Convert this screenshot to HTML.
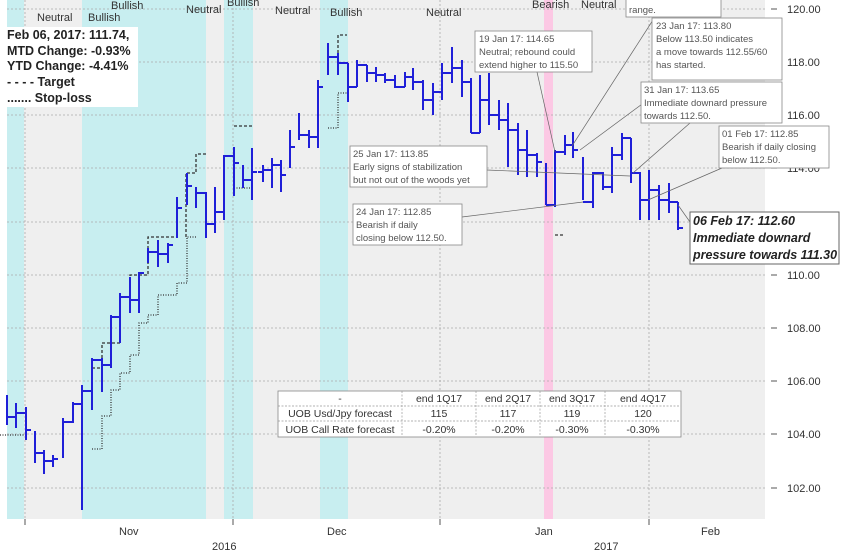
<!DOCTYPE html>
<html><head><meta charset="utf-8"><style>
html,body{margin:0;padding:0;background:#fff;}
svg{display:block;font-family:"Liberation Sans",Arial,sans-serif;}
.ann{font-size:9.5px;fill:#555;}
.bl{font-size:11px;fill:#333;}
</style></head><body>
<svg id="s" width="843" height="554" viewBox="0 0 843 554" xmlns="http://www.w3.org/2000/svg">
<rect x="0" y="0" width="843" height="554" fill="#fff"/>
<rect x="7" y="0" width="758" height="519" fill="#efefef"/>
<rect x="7" y="0" width="17" height="519" fill="#c8eef0"/>
<rect x="82" y="0" width="124" height="519" fill="#c8eef0"/>
<rect x="224" y="0" width="29" height="519" fill="#c8eef0"/>
<rect x="320" y="0" width="28" height="519" fill="#c8eef0"/>
<rect x="544" y="0" width="9" height="519" fill="#fcc8e4"/>
<g stroke="#aaa" stroke-width="0.8" stroke-dasharray="2,2">
<line x1="7" x2="765" y1="9" y2="9"/><line x1="7" x2="765" y1="62" y2="62"/><line x1="7" x2="765" y1="115" y2="115"/><line x1="7" x2="765" y1="168" y2="168"/><line x1="7" x2="765" y1="222" y2="222"/><line x1="7" x2="765" y1="275" y2="275"/><line x1="7" x2="765" y1="328" y2="328"/><line x1="7" x2="765" y1="381" y2="381"/><line x1="7" x2="765" y1="434" y2="434"/><line x1="7" x2="765" y1="488" y2="488"/>
<line x1="25" x2="25" y1="0" y2="519"/><line x1="233" x2="233" y1="0" y2="519"/><line x1="440" x2="440" y1="0" y2="519"/><line x1="649" x2="649" y1="0" y2="519"/>
</g>
<g stroke="#555" stroke-width="1">
<line x1="25" x2="25" y1="519" y2="525"/><line x1="233" x2="233" y1="519" y2="525"/><line x1="440" x2="440" y1="519" y2="525"/><line x1="649" x2="649" y1="519" y2="525"/>
<line x1="771" x2="777" y1="9" y2="9"/><line x1="771" x2="777" y1="62" y2="62"/><line x1="771" x2="777" y1="115" y2="115"/><line x1="771" x2="777" y1="168" y2="168"/><line x1="771" x2="777" y1="222" y2="222"/><line x1="771" x2="777" y1="275" y2="275"/><line x1="771" x2="777" y1="328" y2="328"/><line x1="771" x2="777" y1="381" y2="381"/><line x1="771" x2="777" y1="434" y2="434"/><line x1="771" x2="777" y1="488" y2="488"/>
</g>
<g font-size="11" fill="#333">
<text x="787" y="13">120.00</text><text x="787" y="66">118.00</text><text x="787" y="119">116.00</text><text x="787" y="172">114.00</text><text x="787" y="226">112.00</text><text x="787" y="279">110.00</text><text x="787" y="332">108.00</text><text x="787" y="385">106.00</text><text x="787" y="438">104.00</text><text x="787" y="492">102.00</text>
<text x="119" y="535">Nov</text><text x="327" y="535">Dec</text><text x="535" y="535">Jan</text><text x="701" y="535">Feb</text>
<text x="212" y="550">2016</text><text x="594" y="550">2017</text>
</g>
<g class="bl">
<text x="37" y="21">Neutral</text><text x="88" y="21">Bullish</text><text x="111" y="9">Bullish</text><text x="186" y="13">Neutral</text><text x="227" y="6">Bullish</text><text x="275" y="14">Neutral</text><text x="330" y="16">Bullish</text><text x="426" y="16">Neutral</text><text x="532" y="8">Bearish</text><text x="581" y="8">Neutral</text>
</g>
<!-- target dashed -->
<g fill="none" stroke="#333" stroke-width="1.3" stroke-dasharray="3,2">
<path d="M92 368H102V343H120V297H130V275H148V237H177V237M186 237V173H196V154H206"/>
<path d="M234 126H253"/><path d="M338 53V35H347"/><path d="M555 235H565"/>
</g>
<g fill="none" stroke="#333" stroke-width="1.3" stroke-dasharray="1,1.5">
<path d="M92 449H102V416H111V390H120V373H130V355H139V323H148V315H158V295H177V283H187V237H196"/>
<path d="M234 188H253"/><path d="M328 128H338V93H347"/><path d="M0 435H25"/>
</g>
<g id="bars" stroke="#1f1fd8" stroke-width="2" fill="none"></g>
<!-- leader lines -->
<g stroke="#666" stroke-width="0.7">
<line x1="537" y1="72" x2="555" y2="152"/><line x1="653" y1="20" x2="572" y2="146"/><line x1="672" y1="82" x2="580" y2="150"/><line x1="690" y1="123" x2="633" y2="173"/><line x1="722" y1="168" x2="648" y2="200"/><line x1="487" y1="170" x2="630" y2="176"/><line x1="462" y1="217" x2="583" y2="202"/><line x1="690" y1="222" x2="678" y2="205"/>
</g>
<!-- legend box -->
<rect x="7" y="27" width="131" height="80" fill="#fff"/>
<g font-size="12.5" font-weight="bold" fill="#222">
<text x="7" y="39">Feb 06, 2017:  111.74,</text><text x="7" y="55">MTD Change:  -0.93%</text><text x="7" y="70">YTD Change:  -4.41%</text><text x="7" y="86">- - - -    Target</text><text x="7" y="102">.......    Stop-loss</text>
</g>
<!-- annotation boxes -->
<g fill="#fff" stroke="#888" stroke-width="0.8">
<rect x="626" y="-5" width="95" height="22"/><rect x="475" y="31" width="117" height="41"/><rect x="652" y="18" width="130" height="62"/><rect x="641" y="82" width="141" height="41"/><rect x="719" y="126" width="110" height="42"/><rect x="350" y="146" width="137" height="41"/><rect x="353" y="204" width="109" height="41"/><rect x="690" y="212" width="149" height="52" stroke="#666" stroke-width="1"/>
</g>
<g class="ann">
<text x="629" y="13">range.</text>
<text x="479" y="42">19 Jan 17: 114.65</text><text x="479" y="55">Neutral; rebound could</text><text x="479" y="68">extend higher to 115.50</text>
<text x="656" y="29">23 Jan 17: 113.80</text><text x="656" y="42">Below 113.50 indicates</text><text x="656" y="55">a move towards 112.55/60</text><text x="656" y="68">has started.</text>
<text x="644" y="93">31 Jan 17: 113.65</text><text x="644" y="106">Immediate downard pressure</text><text x="644" y="119">towards 112.50.</text>
<text x="722" y="137">01 Feb 17: 112.85</text><text x="722" y="150">Bearish if daily closing</text><text x="722" y="163">below 112.50.</text>
<text x="353" y="157">25 Jan 17: 113.85</text><text x="353" y="170">Early signs of stabilization</text><text x="353" y="183">but not out of the woods yet</text>
<text x="356" y="215">24 Jan 17: 112.85</text><text x="356" y="228">Bearish if daily</text><text x="356" y="241">closing below 112.50.</text>
</g>
<g font-size="12.5" font-weight="bold" font-style="italic" fill="#222">
<text x="693" y="225">06 Feb 17: 112.60</text><text x="693" y="242">Immediate downard</text><text x="693" y="259">pressure towards 111.30</text>
</g>
<!-- table -->
<rect x="278" y="391" width="403" height="46" fill="#fff" stroke="#888" stroke-width="0.8"/>
<g stroke="#999" stroke-width="0.7" stroke-dasharray="2,1.5">
<line x1="278" x2="681" y1="406" y2="406"/><line x1="278" x2="681" y1="421" y2="421"/>
<line x1="402" x2="402" y1="391" y2="437"/><line x1="476" x2="476" y1="391" y2="437"/><line x1="540" x2="540" y1="391" y2="437"/><line x1="605" x2="605" y1="391" y2="437"/>
</g>
<g font-size="10.5" fill="#333" text-anchor="middle">
<text x="340" y="402">-</text><text x="439" y="402">end 1Q17</text><text x="508" y="402">end 2Q17</text><text x="572" y="402">end 3Q17</text><text x="643" y="402">end 4Q17</text>
<text x="340" y="417">UOB Usd/Jpy forecast</text><text x="439" y="417">115</text><text x="508" y="417">117</text><text x="572" y="417">119</text><text x="643" y="417">120</text>
<text x="340" y="433">UOB Call Rate  forecast</text><text x="439" y="433">-0.20%</text><text x="508" y="433">-0.20%</text><text x="572" y="433">-0.30%</text><text x="643" y="433">-0.30%</text>
</g>
</svg>
<script>
var d=[[7,395,425,417],[16,403,428,413],[26,407,440,430],[35,431,463,453],[44,450,474,461],[53,455,467,459],[63,418,458,422],[73,402,423,404],[82,385,510,391],[92,358,410,360],[102,358,392,365],[111,315,368,317],[120,293,343,297],[130,277,313,300],[139,272,313,273],[148,248,263,252],[158,240,267,254],[168,243,263,245],[177,197,238,208],[187,173,205,186],[196,187,208,193],[206,192,238,224],[215,187,233,212],[224,155,220,156],[234,147,196,163],[243,165,188,180],[252,148,200,172],[263,165,182,170],[272,158,188,165],[281,160,192,175],[290,130,168,147],[299,113,140,135],[309,130,148,137],[318,80,148,87],[328,43,75,57],[338,53,75,63],[348,63,102,87],[357,60,87,65],[367,65,82,73],[376,67,82,75],[385,73,83,80],[395,75,88,87],[405,72,87,77],[413,68,90,82],[423,80,110,100],[433,83,115,92],[442,63,100,73],[452,47,83,68],[462,60,97,82],[471,78,133,133],[480,75,133,100],[489,73,125,115],[499,100,130,120],[508,103,167,130],[518,123,175,150],[527,130,177,155],[537,153,177,162],[546,163,205,205],[555,150,207,152],[565,135,155,145],[573,132,158,150],[583,157,200,202],[593,172,208,173],[603,172,190,187],[612,147,193,155],[622,133,160,138],[631,138,183,173],[640,172,220,200],[649,170,220,190],[659,185,220,200],[669,183,213,202],[678,202,230,228]];
var g=document.getElementById('bars'),s='',p=null;
d.forEach(function(b){s+='<line x1="'+b[0]+'" x2="'+b[0]+'" y1="'+b[1]+'" y2="'+b[2]+'"/>';
if(p!==null&&p>=b[1]&&p<=b[2])s+='<line x1="'+(b[0]-5)+'" x2="'+b[0]+'" y1="'+p+'" y2="'+p+'"/>';
s+='<line x1="'+b[0]+'" x2="'+(b[0]+5)+'" y1="'+b[3]+'" y2="'+b[3]+'"/>';p=b[3];});
g.innerHTML=s;
</script>
</body></html>
